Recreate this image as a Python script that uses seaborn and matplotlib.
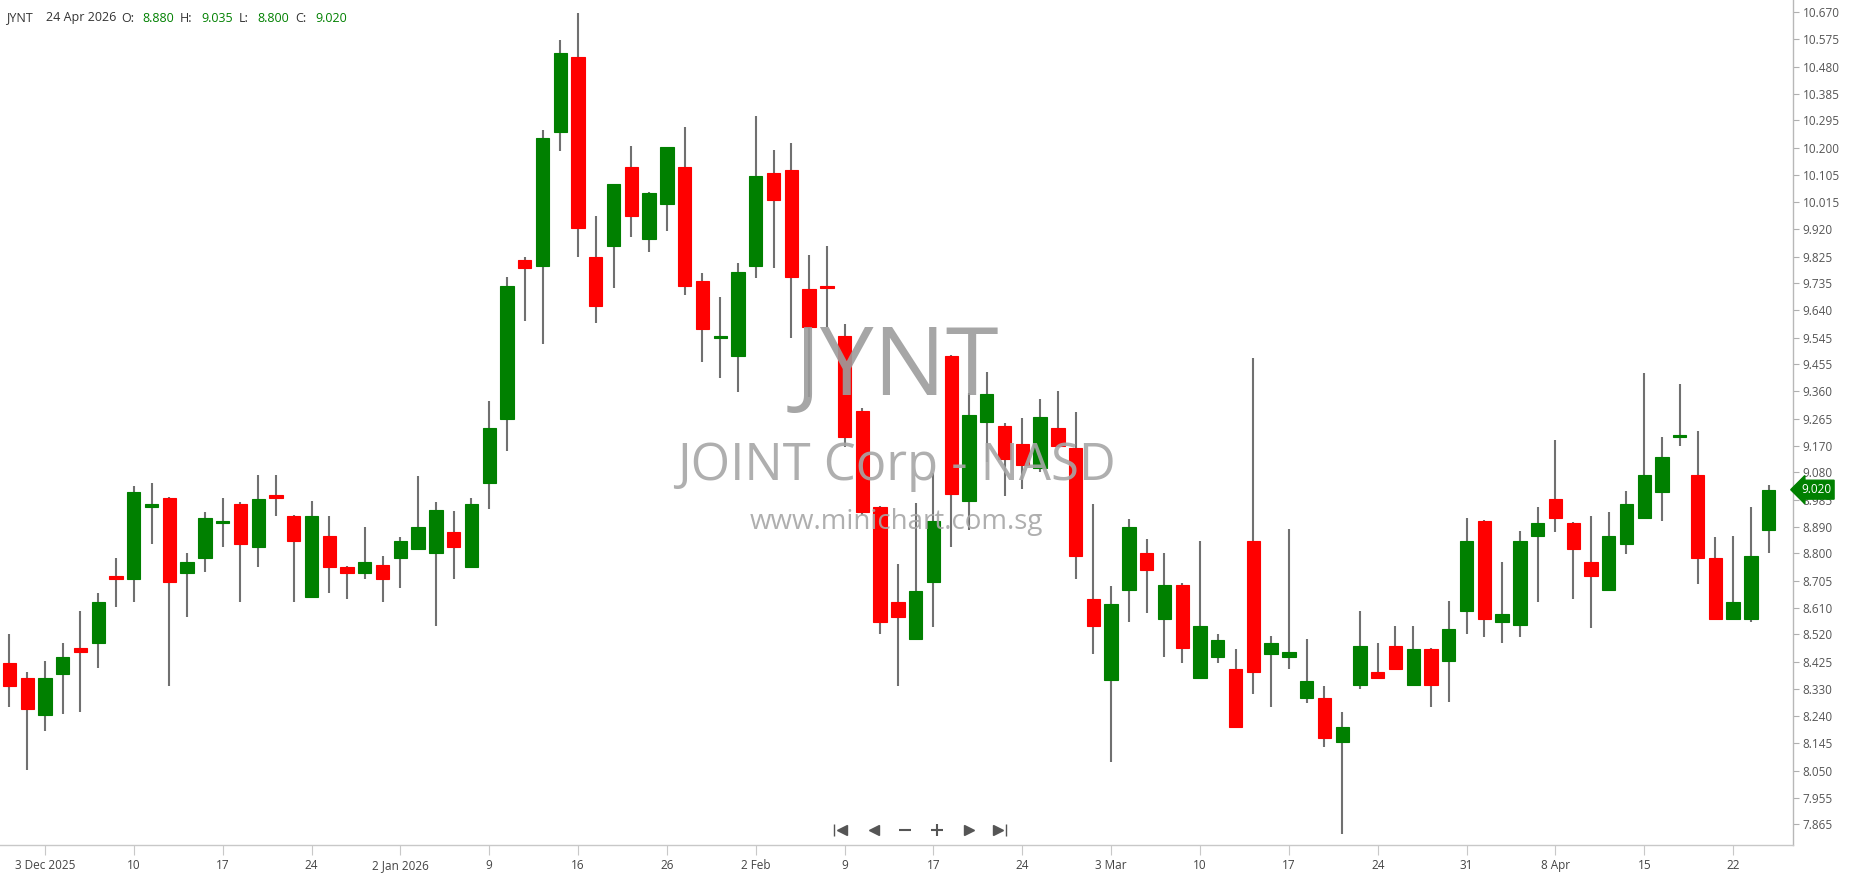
import numpy as np
import pandas as pd
import seaborn as sns
import matplotlib
matplotlib.use("Agg")
import matplotlib.pyplot as plt

# ======================================
# Data
# ======================================

symbol = "JYNT"
company = "JOINT Corp - NASD"
site = "www.minichart.com.sg"

opens = [8.420, 8.368, 8.241, 8.382, 8.472, 8.490, 8.722, 8.710, 8.960, 8.990,
         8.732, 8.784, 8.904, 8.972, 8.823, 9.003, 8.929, 8.649, 8.860, 8.752,
         8.732, 8.761, 8.784, 8.814, 8.801, 8.873, 8.754, 9.042, 9.263, 9.813,
         9.793, 10.254, 10.513, 9.823, 9.862, 10.134, 9.885, 10.006, 10.134, 9.741,
         9.543, 9.482, 9.793, 10.113, 10.124, 9.714, 9.724, 9.551, 9.292, 8.959,
         8.631, 8.503, 8.702, 9.482, 8.982, 9.254, 9.240, 9.179, 9.094, 9.232,
         9.163, 8.641, 8.363, 8.672, 8.800, 8.572, 8.692, 8.368, 8.443, 8.400,
         8.843, 8.452, 8.443, 8.300, 8.299, 8.150, 8.344, 8.389, 8.480, 8.344,
         8.471, 8.429, 8.602, 8.912, 8.563, 8.551, 8.861, 8.989, 8.904, 8.769,
         8.672, 8.831, 8.921, 9.012, 9.203, 9.072, 8.783, 8.572, 8.572, 8.880]

highs = [8.520, 8.389, 8.428, 8.489, 8.602, 8.662, 8.783, 9.033, 9.042, 8.994,
         8.800, 8.942, 8.990, 8.976, 9.072, 9.072, 8.932, 8.981, 8.929, 8.756,
         8.890, 8.791, 8.855, 9.067, 8.976, 8.946, 8.990, 9.326, 9.754, 9.823,
         10.262, 10.573, 10.665, 9.965, 10.074, 10.207, 10.049, 10.203, 10.272, 9.767,
         9.686, 9.802, 10.311, 10.194, 10.216, 9.831, 9.861, 9.592, 9.301, 8.964,
         8.762, 8.973, 9.077, 9.485, 9.353, 9.427, 9.252, 9.266, 9.332, 9.361,
         9.287, 8.969, 8.687, 8.918, 8.849, 8.800, 8.697, 8.843, 8.520, 8.469,
         9.474, 8.515, 8.883, 8.503, 8.343, 8.251, 8.601, 8.489, 8.549, 8.549,
         8.475, 8.636, 8.921, 8.915, 8.769, 8.877, 8.959, 9.193, 8.907, 8.929,
         8.942, 9.015, 9.422, 9.201, 9.384, 9.223, 8.855, 8.861, 8.960, 9.035]

lows = [8.270, 8.052, 8.188, 8.244, 8.252, 8.404, 8.616, 8.632, 8.831, 8.343,
        8.580, 8.736, 8.822, 8.632, 8.754, 8.930, 8.632, 8.649, 8.662, 8.641,
        8.710, 8.632, 8.679, 8.814, 8.550, 8.710, 8.754, 8.952, 9.155, 9.604,
        9.522, 10.190, 9.823, 9.595, 9.716, 9.892, 9.840, 9.915, 9.694, 9.461,
        9.405, 9.357, 9.750, 9.785, 9.543, 9.340, 9.582, 9.169, 8.933, 8.520,
        8.343, 8.503, 8.547, 8.823, 8.881, 9.117, 8.999, 9.021, 9.082, 9.172,
        8.712, 8.452, 8.080, 8.563, 8.593, 8.443, 8.420, 8.368, 8.420, 8.201,
        8.313, 8.271, 8.400, 8.282, 8.132, 7.830, 8.330, 8.371, 8.400, 8.344,
        8.271, 8.288, 8.520, 8.512, 8.489, 8.512, 8.632, 8.874, 8.641, 8.541,
        8.672, 8.797, 8.921, 8.913, 9.172, 8.693, 8.572, 8.572, 8.564, 8.800]

closes = [8.343, 8.261, 8.368, 8.441, 8.460, 8.631, 8.710, 9.011, 8.972, 8.701,
          8.769, 8.921, 8.913, 8.831, 8.989, 8.991, 8.844, 8.929, 8.754, 8.732,
          8.769, 8.710, 8.843, 8.890, 8.951, 8.823, 8.972, 9.232, 9.724, 9.785,
          10.234, 10.527, 9.923, 9.656, 10.074, 9.965, 10.043, 10.203, 9.725, 9.574,
          9.549, 9.771, 10.104, 10.022, 9.755, 9.582, 9.718, 9.203, 8.944, 8.564,
          8.581, 8.670, 8.912, 9.004, 9.278, 9.352, 9.125, 9.104, 9.270, 9.172,
          8.792, 8.550, 8.624, 8.890, 8.741, 8.692, 8.472, 8.549, 8.502, 8.201,
          8.391, 8.489, 8.458, 8.360, 8.163, 8.199, 8.480, 8.371, 8.400, 8.471,
          8.344, 8.540, 8.843, 8.572, 8.592, 8.843, 8.904, 8.921, 8.814, 8.723,
          8.860, 8.972, 9.072, 9.132, 9.209, 8.784, 8.572, 8.631, 8.791, 9.020]

holidays = ["2025-12-25", "2026-01-01", "2026-01-19", "2026-02-16", "2026-04-03"]

label_dates = ["2025-12-03", "2025-12-10", "2025-12-17", "2025-12-24", "2026-01-02",
               "2026-01-09", "2026-01-16", "2026-01-26", "2026-02-02", "2026-02-09",
               "2026-02-17", "2026-02-24", "2026-03-03", "2026-03-10", "2026-03-17",
               "2026-03-24", "2026-03-31", "2026-04-08", "2026-04-15", "2026-04-22"]
date_labels = ["3 Dec 2025", "10", "17", "24", "2 Jan 2026", "9", "16", "26", "2 Feb", "9",
               "17", "24", "3 Mar", "10", "17", "24", "31", "8 Apr", "15", "22"]

price_labels = ["10.670", "10.575", "10.480", "10.385", "10.295", "10.200", "10.105",
                "10.015", "9.920", "9.825", "9.735", "9.640", "9.545", "9.455", "9.360",
                "9.265", "9.170", "9.080", "8.985", "8.890", "8.800", "8.705", "8.610",
                "8.520", "8.425", "8.330", "8.240", "8.145", "8.050", "7.955", "7.865"]

# ======================================
# Frame
# ======================================

days = pd.bdate_range("2025-12-01", "2026-04-24")
days = days[~days.isin(pd.to_datetime(holidays))]

df = pd.DataFrame({"date": days, "open": opens, "high": highs,
                   "low": lows, "close": closes})
df["pos"] = np.arange(len(df))
df["up"] = df["close"] >= df["open"]

GREEN = "#008000"
RED = "#ff0000"

sns.set_theme(style="white")
plt.rcParams["font.family"] = ["Open Sans", "DejaVu Sans"]

W, H = 1850, 874
fig = plt.figure(figsize=(W / 100, H / 100), dpi=100)
ax = fig.add_axes([0, 29 / H, 1793 / W, 1 - 29 / H])

# ======================================
# Candles
# ======================================

colors = np.where(df["up"], GREEN, RED)
ax.vlines(df["pos"], df["low"], df["high"], color="#707070", linewidth=1.5, zorder=1)
body_lo = np.minimum(df["open"], df["close"])
body_h = np.abs(df["close"] - df["open"])
ax.bar(df["pos"], body_h, bottom=body_lo, width=0.75, color=colors,
       edgecolor=colors, linewidth=0.8, zorder=2)

# ======================================
# Axes
# ======================================

ax.set_xlim(-0.53, 100.37)
ax.set_ylim(7.793, 10.711)

tick_pos = [df.index[df["date"] == pd.Timestamp(d)][0] for d in label_dates]
ax.set_xticks(tick_pos)
ax.set_xticklabels(date_labels, fontsize=8.5, color="#444444")

ax.yaxis.tick_right()
ax.set_yticks([float(v) for v in price_labels])
ax.set_yticklabels(price_labels, fontsize=8.5, color="#555555")

ax.tick_params(axis="x", bottom=True, length=7, width=0.8, color="#c8c8c8", pad=3)
ax.tick_params(axis="y", right=True, length=4, width=0.8, color="#b0b0b0", pad=3)

for side in ["left", "top"]:
    ax.spines[side].set_visible(False)
ax.spines["bottom"].set_color("#c8c8c8")
ax.spines["right"].set_color("#b8b8b8")
ax.spines["bottom"].set_linewidth(1.0)
ax.spines["right"].set_linewidth(1.0)
ax.grid(False)

# last price tag
ax.text(1.0 + 8 / 1793, closes[-1], f"{closes[-1]:.3f}", transform=ax.get_yaxis_transform(),
        ha="left", va="center", fontsize=8.5, color="white", clip_on=False, zorder=5,
        bbox=dict(boxstyle="larrow,pad=0.25", fc=GREEN, ec=GREEN))

# ======================================
# Watermark
# ======================================

ax.text(0.5, 0.562, symbol, transform=ax.transAxes, ha="center", va="center",
        fontsize=69, color="#9c9c9c", alpha=0.9, zorder=3)
ax.text(0.5, 0.448, company, transform=ax.transAxes, ha="center", va="center",
        fontsize=36.5, color="#a6a6a6", alpha=0.9, zorder=3)
ax.text(0.5, 0.382, site, transform=ax.transAxes, ha="center", va="center",
        fontsize=20, color="#a6a6a6", alpha=0.9, zorder=3)

# ======================================
# Header
# ======================================

hy = 1 - 18 / H
parts = [(6, symbol, "#333333"), (46, df["date"].iloc[-1].strftime("%-d %b %Y"), "#333333"),
         (121, "O:", "#333333"), (142, f"{opens[-1]:.3f}", GREEN),
         (180, "H:", "#333333"), (201, f"{highs[-1]:.3f}", GREEN),
         (239, "L:", "#333333"), (257, f"{lows[-1]:.3f}", GREEN),
         (295, "C:", "#333333"), (315, f"{closes[-1]:.3f}", GREEN)]
for px, txt, col in parts:
    fig.text(px / W, hy, txt, ha="left", va="center", fontsize=9, color=col)

# ======================================
# Navigation buttons
# ======================================

ny = 1 - 830 / H
nav = fig.transFigure
ax.plot([834 / W], [ny], marker="|", markersize=9, color="#555555", transform=nav, clip_on=False)
ax.plot([842 / W], [ny], marker="<", markersize=7, color="#555555", transform=nav, clip_on=False)
ax.plot([874 / W], [ny], marker="<", markersize=7, color="#555555", transform=nav, clip_on=False)
ax.plot([905 / W], [ny], marker="_", markersize=9, mew=1.5, color="#555555", transform=nav, clip_on=False)
ax.plot([937 / W], [ny], marker="+", markersize=9, mew=1.5, color="#555555", transform=nav, clip_on=False)
ax.plot([969 / W], [ny], marker=">", markersize=7, color="#555555", transform=nav, clip_on=False)
ax.plot([998 / W], [ny], marker=">", markersize=7, color="#555555", transform=nav, clip_on=False)
ax.plot([1006 / W], [ny], marker="|", markersize=9, color="#555555", transform=nav, clip_on=False)

fig.savefig("out.png", dpi=100)
